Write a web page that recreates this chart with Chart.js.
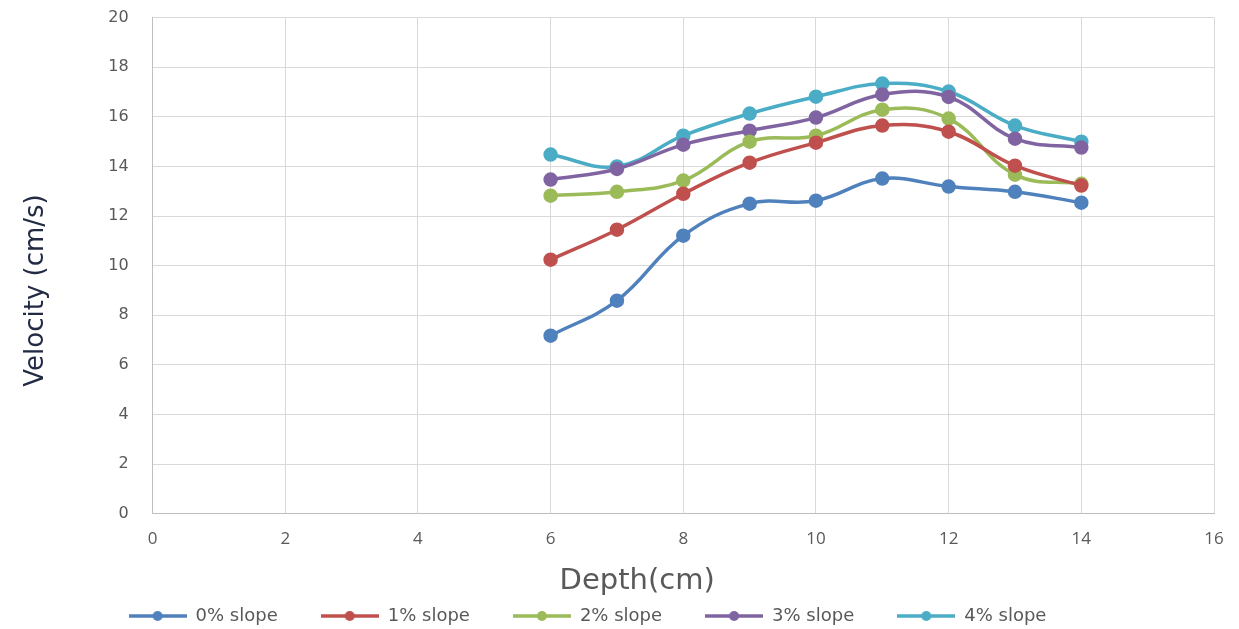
<!DOCTYPE html>
<html lang="en">
<head>
    <meta charset="UTF-8">
    <title>Velocity vs Depth</title>
    <style>
body, html {
    margin: 0;
    padding: 0;
    background-color: #ffffff;
}
#wrap {
    width: 1239px;
    height: 629px;
}
    </style>
    <script src="https://cdn.jsdelivr.net/npm/chart.js"></script>
</head>
<body>
    <div id="wrap"><canvas id="velocityChart"></canvas></div>

    <script>
        // depth (cm) at which velocity was measured
        const depths = [6, 7, 8, 9, 10, 11, 12, 13, 14];

        const slope0 = [7.18, 8.59, 11.21, 12.5, 12.62, 13.51, 13.19, 12.98, 12.54];
        const slope1 = [10.24, 11.45, 12.9, 14.15, 14.96, 15.65, 15.4, 14.03, 13.23];
        const slope2 = [12.82, 12.98, 13.43, 15.0, 15.24, 16.29, 15.93, 13.67, 13.3];
        const slope3 = [13.47, 13.9, 14.88, 15.44, 15.97, 16.9, 16.8, 15.12, 14.76];
        const slope4 = [14.48, 14.0, 15.24, 16.13, 16.81, 17.34, 17.02, 15.65, 15.0];

        const seriesNames = ['0% slope', '1% slope', '2% slope', '3% slope', '4% slope'];
        const seriesData = [slope0, slope1, slope2, slope3, slope4];
        const colors = ['#4f81bd', '#c0504d', '#9bbb59', '#8064a2', '#4bacc6'];

        // little line-with-dot marker for the legend
        function legendMarker(color) {
            const c = document.createElement('canvas');
            c.width = 58;
            c.height = 12;
            const g = c.getContext('2d');
            g.strokeStyle = color;
            g.lineWidth = 3.5;
            g.beginPath();
            g.moveTo(0, 6);
            g.lineTo(58, 6);
            g.stroke();
            g.fillStyle = color;
            g.beginPath();
            g.arc(29, 6, 5, 0, Math.PI * 2);
            g.fill();
            return c;
        }

        const datasets = seriesNames.map((name, i) => ({
            label: name,
            data: depths.map((d, j) => ({ x: d, y: seriesData[i][j] })),
            borderColor: colors[i],
            backgroundColor: colors[i],
            borderWidth: 3.5,
            pointRadius: 5.5,
            pointHoverRadius: 6,
            tension: 0.4,
            showLine: true,
            fill: false
        }));

        // legend sits a bit left of centre and closer to the axis title than chart.js would put it
        const legendNudge = {
            id: 'legendNudge',
            afterLayout(chart) {
                const lg = chart.legend;
                lg.left -= 30;
                lg.right -= 30;
                lg.top -= 40;
                lg.bottom -= 40;
            }
        };

        // the axis titles are off-centre in the original, trailing spaces push them over
        const pad = n => '\u00a0'.repeat(n);

        new Chart(document.getElementById('velocityChart'), {
            type: 'scatter',
            data: { datasets: datasets },
            plugins: [legendNudge],
            options: {
                responsive: true,
                maintainAspectRatio: false,
                animation: false,
                layout: { padding: { left: 21, right: 25, top: 0, bottom: -46 } },
                plugins: {
                    legend: {
                        position: 'bottom',
                        labels: {
                            usePointStyle: true,
                            pointStyleWidth: 58,
                            boxHeight: 12,
                            padding: 43,
                            color: '#595959',
                            font: { family: 'DejaVu Sans', size: 18 },
                            generateLabels: chart => chart.data.datasets.map((ds, i) => ({
                                text: ds.label,
                                fillStyle: ds.borderColor,
                                strokeStyle: ds.borderColor,
                                lineWidth: 0,
                                pointStyle: legendMarker(ds.borderColor),
                                hidden: false,
                                datasetIndex: i,
                                fontColor: '#595959'
                            }))
                        }
                    },
                    tooltip: { enabled: false }
                },
                scales: {
                    x: {
                        type: 'linear',
                        min: 0,
                        max: 16,
                        ticks: { stepSize: 2, color: '#595959', font: { family: 'Open Sans', size: 17 }, padding: 15 },
                        grid: { color: '#d9d9d9', drawTicks: false },
                        border: { color: '#bfbfbf' },
                        title: {
                            display: true,
                            text: 'Depth(cm)' + pad(10),
                            color: '#595959',
                            font: { family: 'DejaVu Sans', size: 29 },
                            padding: { top: 0, bottom: 5 }
                        }
                    },
                    y: {
                        min: 0,
                        max: 20,
                        ticks: { stepSize: 2, color: '#595959', font: { family: 'DejaVu Sans', size: 16 }, padding: 8 },
                        grid: { color: '#d9d9d9', drawTicks: true, tickLength: 16, tickColor: 'rgba(0,0,0,0)' },
                        border: { color: '#bfbfbf' },
                        title: {
                            display: true,
                            text: 'Velocity (cm/s)' + pad(6),
                            color: '#222a44',
                            font: { family: 'DejaVu Sans', size: 26 },
                            padding: { top: 0, bottom: 48 }
                        }
                    }
                }
            }
        });
    </script>
</body>
</html>
